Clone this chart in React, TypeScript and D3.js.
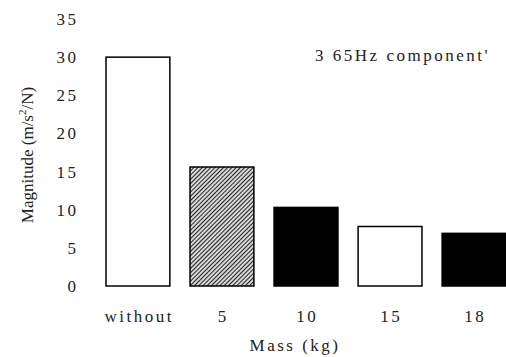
import React from "react";
import * as d3 from "d3";

const categories = ["without", "5", "10", "15", "18"];
const values = [30, 15.6, 10.3, 7.8, 6.9];
const fills = ["white", "url(#hatch)", "black", "white", "black"];
const yTicks = [0, 5, 10, 15, 20, 25, 30, 35];

export default function App() {
  const W = 506, H = 357;
  const x = d3.scaleBand<string>().domain(categories).range([106, 506]).paddingInner(0.24).paddingOuter(0);
  const y = d3.scaleLinear().domain([0, 35]).range([286, 19]);
  const font = "'Liberation Serif', 'Times New Roman', serif";
  const ls = 2.5;
  return (
    <svg width={W} height={H} style={{ position: "absolute", left: 0, top: 0 }}>
      <defs>
        <pattern id="hatch" patternUnits="userSpaceOnUse" width="3" height="3" patternTransform="rotate(45)">
          <rect width="3" height="3" fill="#d8d8d8" />
          <line x1="0.5" y1="0" x2="0.5" y2="3" stroke="#222" strokeWidth="1" />
        </pattern>
      </defs>
      {yTicks.map((t) => (
        <text key={t} x={76 + ls} y={y(t)} dy="0.35em" textAnchor="end" fontFamily={font} fontSize={17} letterSpacing={ls} fill="#222">
          {t}
        </text>
      ))}
      {categories.map((c, i) => (
        <rect key={c} x={x(c)!} y={y(values[i])} width={x.bandwidth()} height={y(0) - y(values[i])}
          fill={fills[i]} stroke="black" strokeWidth={1.5} />
      ))}
      {categories.map((c) => (
        <text key={"l" + c} x={x(c)! + x.bandwidth() / 2 + ls / 2} y={322} textAnchor="middle" fontFamily={font} fontSize={17} letterSpacing={ls} fill="#222">
          {c}
        </text>
      ))}
      <text x={295} y={351} textAnchor="middle" fontFamily={font} fontSize={17} letterSpacing={ls} fill="#222">Mass (kg)</text>
      <text x={490} y={61} textAnchor="end" fontFamily={font} fontSize={17} letterSpacing={ls} fill="#222">3 65Hz component'</text>
      <text transform={`translate(33,155) rotate(-90)`} textAnchor="middle" fontFamily={font} fontSize={17} fill="#222">
        Magnitude (m/s<tspan dy={-7} fontSize={11}>2</tspan><tspan dy={7}>/N)</tspan>
      </text>
    </svg>
  );
}
